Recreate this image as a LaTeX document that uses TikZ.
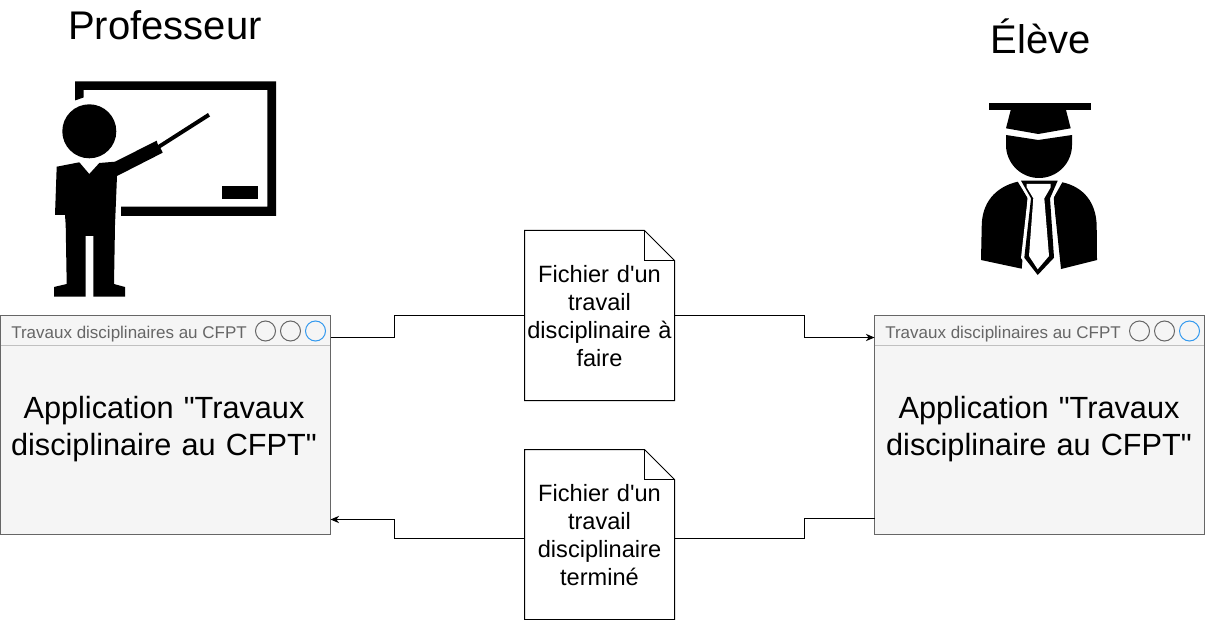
\documentclass[tikz,border=0pt]{standalone}
\usepackage{fontspec}
\newfontfamily\plainsans{Liberation Sans}
\definecolor{winfill}{HTML}{F5F5F5}
\definecolor{winline}{HTML}{666666}
\definecolor{divline}{HTML}{C0C0C0}
\definecolor{bluebtn}{HTML}{3399EE}
\newcommand{\fs}[1]{\plainsans\fontsize{#1}{#1}\selectfont}
\usetikzlibrary{arrows.meta}
\tikzset{
  x=0.75pt,y=-0.75pt,
  winbox/.style={draw=winline,fill=winfill,line width=0.75pt,rectangle,minimum width=247.5pt,minimum height=164.25pt,inner sep=0pt,outer sep=0pt},
  wintitle/.style={text=winline,inner sep=0pt,anchor=west,font=\fs{12.75pt}},
  winbtn/.style={circle,draw=winline,fill=none,line width=0.75pt,minimum size=15pt,inner sep=0pt},
  bluewinbtn/.style={winbtn,draw=bluebtn},
  apptext/.style={align=center,inner sep=0pt,font=\fs{23pt},text width=240pt},
  doctext/.style={align=center,inner sep=0pt,text width=112pt},
  actor/.style={inner sep=0pt,font=\fs{30pt}},
  link/.style={draw=black,line width=0.75pt},
  linkarrow/.style={link,-{Stealth[length=6.5pt,width=5.5pt]}},
  ink/.style={fill=black,draw=none},
  gap/.style={fill=white,draw=none}
}
\newcommand{\docshape}[2]{%
  \node[draw=none,minimum width=112.5pt,minimum height=127.5pt,inner sep=0pt,outer sep=0pt,anchor=north west] (#1) at (524.5,#2) {};
  \draw[line width=0.75pt,fill=white,line join=miter] (524.5,#2) -- ++(120,0) -- ++(30,30) -- ++(0,140) -- ++(-150,0) -- cycle;
  \draw[line width=0.75pt] (644.5,#2) -- ++(0,30) -- ++(30,0);
}
\begin{document}
\begin{tikzpicture}
\useasboundingbox (0,0) rectangle (1205,620);
% windows and connectors
\node[winbox,anchor=north west] (winL) at (0.5,315.5) {};
\node[winbox,anchor=north west] (winR) at (874.5,315.5) {};
\coordinate (lOut) at (330.5,337.5);
\coordinate (lIn) at (330.5,519.5);
\coordinate (rIn) at (874.5,337.5);
\coordinate (rOut) at (874.5,518.5);
\coordinate (d1L) at (524.5,315.5);
\coordinate (d1R) at (674.5,315.5);
\coordinate (d2L) at (524.5,538.5);
\coordinate (d2R) at (674.5,538.5);
\draw[link] (lOut) -- (394.5,337.5) -- (394.5,315.5) -- (d1L);
\draw[linkarrow] (d1R) -- (804.5,315.5) -- (804.5,337.5) -- (rIn);
\draw[link] (rOut) -- (804.5,518.5) -- (804.5,538.5) -- (d2R);
\draw[linkarrow] (d2L) -- (394.5,538.5) -- (394.5,519.5) -- (lIn);
\draw[divline,line width=0.75pt] (1,345.5) -- (330,345.5);
\draw[divline,line width=0.75pt] (875,345.5) -- (1204,345.5);
\node[wintitle] (titleL) at (11,334) {Travaux disciplinaires au CFPT};
\node[wintitle] (titleR) at (885,334) {Travaux disciplinaires au CFPT};
\node[winbtn] (bL1) at (265.5,331) {};
\node[winbtn] (bL2) at (290.5,331) {};
\node[bluewinbtn] (bL3) at (315.5,331) {};
\node[winbtn] (bR1) at (1139.5,331) {};
\node[winbtn] (bR2) at (1164.5,331) {};
\node[bluewinbtn] (bR3) at (1189.5,331) {};
\node[apptext] (appL) at (164,429) {Application "Travaux\\[5.3pt]disciplinaire au CFPT"};
\node[apptext] (appR) at (1039,429) {Application "Travaux\\[5.3pt]disciplinaire au CFPT"};
% documents
\docshape{doc1}{230.5}
\docshape{doc2}{449.5}
\node[doctext,font=\fs{17.7pt},anchor=center] (txt1) at (599.5,316) {Fichier d'un\\[3.3pt]travail\\[3.3pt]disciplinaire à\\[3.3pt]faire};
\node[doctext,font=\fs{17.7pt},anchor=center] (txt2) at (599.5,535) {Fichier d'un\\[3.3pt]travail\\[3.3pt]disciplinaire\\[3.3pt]terminé};
% actors
\node[actor] (prof) at (165,25) {Professeur};
\node[actor] (eleve) at (1040.5,36) {Élève};
% teacher icon
\fill[ink] (75,81.5) -- (276,81.5) -- (276,216) -- (121,216) -- (121,206.7) -- (267.3,206.7) -- (267.3,90) -- (83.5,90) -- (83.5,97.5) -- (75,100.5) -- cycle;
\fill[ink] (222,186) rectangle (257.7,199);
\fill[ink] (89.3,131.3) circle[radius=27];
\fill[ink] (56.7,166.7) -- (79.3,162.3) -- (89.3,174) -- (99.3,163) -- (115,161.7) -- (156.7,140.7) -- (158,145) -- (208,113) -- (210,116.5) -- (160.5,148) -- (162.7,152.7) -- (117,176) -- (115,225) -- (114,284) -- (125,287) -- (125,296.7) -- (93.3,296.7) -- (93.3,236) -- (85.5,236) -- (85.5,296.7) -- (54,296.7) -- (54,287) -- (66.7,284) -- (65.7,225) -- (65,215) -- (55,215) -- cycle;
% student icon
\fill[ink] (989.3,103.3) rectangle (1091.3,110);
\fill[ink] (1010.7,110) -- (1006,128.3) -- (1038.3,134) -- (1070.7,128.3) -- (1066,110) -- cycle;
\fill[ink] (1006,135) -- (1038.3,140) -- (1072,135) -- (1072,145) arc[start angle=0,end angle=180,x radius=33,y radius=33] -- cycle;
\fill[ink] (1017.7,181.7) .. controls (995,187) and (981.7,203) .. (981.7,226.7) -- (981,260) -- (1021.7,268.7) -- (1027.7,198) -- cycle;
\fill[ink] (1062.3,182.3) .. controls (1084,187) and (1096.5,203) .. (1096.7,226.7) -- (1097,260) -- (1061,269) -- (1053.5,198) -- cycle;
\fill[gap] (1018,180) -- (1060,180) -- (1053.5,198) -- (1058,258) -- (1038,279) -- (1021,258) -- (1027.7,198) -- cycle;
\fill[ink] (1021,180.7) -- (1057.7,180.7) -- (1050,198.3) -- (1054,257.7) -- (1037.7,275) -- (1024.3,257.7) -- (1031,198.3) -- cycle;
\fill[gap] (1026.7,184) -- (1050.7,184) -- (1050.7,187.3) -- (1044.3,198.3) -- (1049,256) -- (1037.7,269.3) -- (1029,256) -- (1033.3,198.3) -- (1026.7,187.3) -- cycle;
\end{tikzpicture}
\end{document}
